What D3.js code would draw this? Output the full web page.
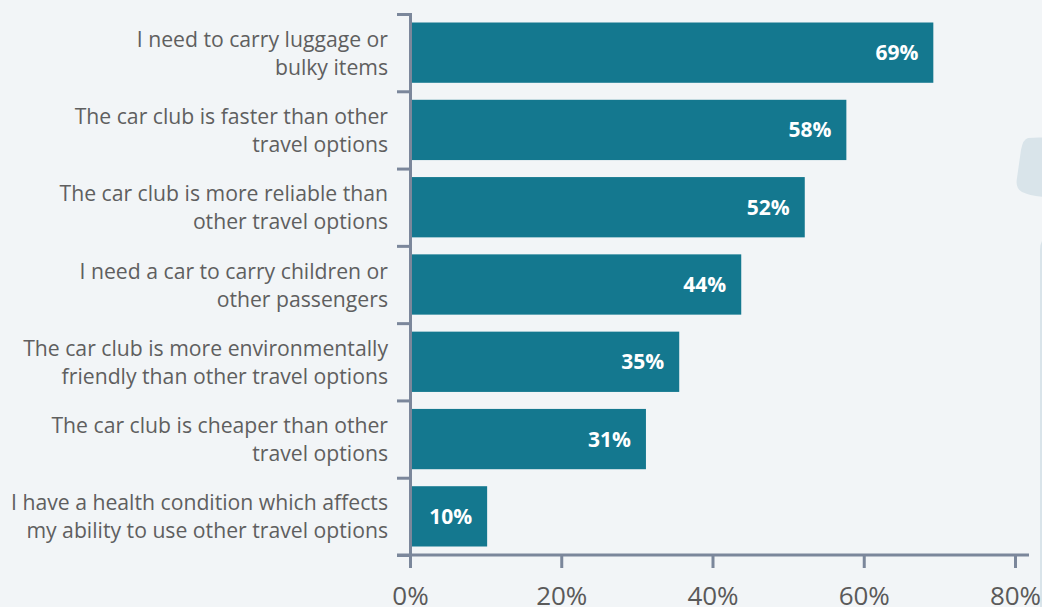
<!DOCTYPE html>
<html>
<head>
<meta charset="utf-8">
<title>Car club reasons</title>
<script src="https://cdn.jsdelivr.net/npm/d3@7"></script>
<style>
  body { margin: 0; background: #f2f5f7; }
  svg { display: block; font-family: "Open Sans", sans-serif; }
  .axis path, .axis line { stroke: #7b879b; stroke-width: 3; fill: none; }
  .axis text { font-size: 26px; fill: #5a5a5a; font-family: "Open Sans", sans-serif; }
</style>
</head>
<body>
<script>
var categories = [
  ["I need to carry luggage or", "bulky items"],
  ["The car club is faster than other", "travel options"],
  ["The car club is more reliable than", "other travel options"],
  ["I need a car to carry children or", "other passengers"],
  ["The car club is more environmentally", "friendly than other travel options"],
  ["The car club is cheaper than other", "travel options"],
  ["I have a health condition which affects", "my ability to use other travel options"]
];
var values = [69.2, 57.7, 52.2, 43.8, 35.6, 31.2, 10.2];
var labels = ["69%", "58%", "52%", "44%", "35%", "31%", "10%"];
var xTicks = [0, 20, 40, 60, 80];

var width = 1042, height = 607;
var mLeft = 410, mRight = 1015, mTop = 14, mBottom = 555;

var svg = d3.select("body").append("svg")
  .attr("width", width)
  .attr("height", height);

svg.append("rect").attr("width", width).attr("height", height).attr("fill", "#f2f5f7");

// decorative shapes on the right edge
svg.append("path")
  .attr("d", "M1028,138 Q1040,137 1046,138 L1046,197 Q1030,196 1022,192 Q1015,188 1017,178 L1021,150 Q1023,139 1028,138 Z")
  .attr("fill", "#d9e4ea");
svg.append("path")
  .attr("d", "M1046,238 L1046,607 L1040,607 L1040,250 Q1040,240 1046,238 Z")
  .attr("fill", "#d9e4ea");

var x = d3.scaleLinear().domain([0, 80]).range([mLeft, mRight]);
var y = d3.scaleBand().domain(d3.range(categories.length)).range([mTop, mBottom]).paddingInner(0.22).paddingOuter(0.11);

svg.selectAll("rect.bar")
  .data(values)
  .enter().append("rect")
  .attr("class", "bar")
  .attr("x", x(0))
  .attr("y", function (d, i) { return y(i); })
  .attr("width", function (d) { return x(d) - x(0); })
  .attr("height", y.bandwidth())
  .attr("fill", "#14788f");

svg.selectAll("text.val")
  .data(values)
  .enter().append("text")
  .attr("class", "val")
  .attr("x", function (d) { return x(d) - 15; })
  .attr("y", function (d, i) { return y(i) + y.bandwidth() / 2; })
  .attr("dy", "0.36em")
  .attr("text-anchor", "end")
  .attr("font-size", "21px")
  .attr("font-weight", "bold")
  .attr("fill", "#fff")
  .text(function (d, i) { return labels[i]; });

// category labels
var cat = svg.selectAll("text.cat")
  .data(categories)
  .enter().append("text")
  .attr("class", "cat")
  .attr("text-anchor", "end")
  .attr("font-size", "21.2px")
  .attr("fill", "#5f5f5f");
cat.each(function (d, i) {
  var c = y(i) + y.bandwidth() / 2;
  d3.select(this).selectAll("tspan")
    .data(d)
    .enter().append("tspan")
    .attr("x", 388)
    .attr("y", function (t, j) { return c - 6 + j * 28; })
    .text(function (t) { return t; });
});

// y axis with boundary ticks
var yb = d3.scaleLinear().domain([0, categories.length]).range([mTop, mBottom]);
svg.append("g")
  .attr("class", "axis")
  .attr("transform", "translate(" + mLeft + ",0)")
  .call(d3.axisLeft(yb).ticks(categories.length).tickSize(13).tickSizeOuter(13).tickFormat(""));

// x axis
var xAxis = svg.append("g")
  .attr("class", "axis")
  .attr("transform", "translate(0," + mBottom + ")")
  .call(d3.axisBottom(x).tickValues(xTicks).tickSize(13).tickSizeOuter(0).tickPadding(19)
    .tickFormat(function (d) { return d + "%"; }));
xAxis.select(".domain").attr("d", "M397,0H1029");
</script>
</body>
</html>
